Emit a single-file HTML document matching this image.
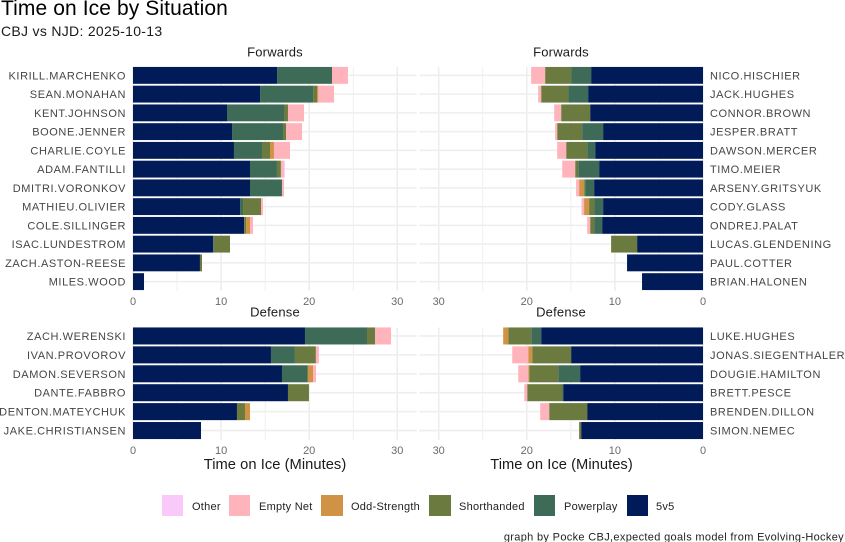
<!DOCTYPE html>
<html lang="en">
<head>
<meta charset="utf-8">
<title>Time on Ice by Situation</title>
<style>
html,body{margin:0;padding:0;background:#fff;width:845px;height:542px;overflow:hidden}
svg{display:block;font-family:"Liberation Sans",Arial,sans-serif}
.ylab{font-size:11px;fill:#454545;letter-spacing:.58px}
.tick{font-size:11px;fill:#6a6a6a}
.strip{font-size:13px;fill:#1a1a1a;letter-spacing:.2px}
.axt{font-size:14.7px;fill:#1a1a1a;letter-spacing:.05px}
.leg{font-size:11px;fill:#222;letter-spacing:.25px}
</style>
</head>
<body>
<svg id="chart" width="845" height="542" viewBox="0 0 845 542" xmlns="http://www.w3.org/2000/svg">
  <text x="1" y="15" font-size="21" letter-spacing=".1" fill="#000">Time on Ice by Situation</text>
  <text x="1" y="36" font-size="14" letter-spacing=".3" fill="#1a1a1a">CBJ vs NJD: 2025-10-13</text>

  <text class="strip" x="275" y="56.5" text-anchor="middle">Forwards</text>
  <text class="strip" x="561" y="56.5" text-anchor="middle">Forwards</text>
  <text class="strip" x="275" y="316.5" text-anchor="middle">Defense</text>
  <text class="strip" x="561" y="316.5" text-anchor="middle">Defense</text>

  <g id="plots"></g>

  <text class="axt" x="275" y="469" text-anchor="middle">Time on Ice (Minutes)</text>
  <text class="axt" x="561.5" y="469" text-anchor="middle">Time on Ice (Minutes)</text>

  <g>
    <rect x="162" y="495" width="21" height="21" fill="#f9c9f9"/>
    <text class="leg" x="192" y="510">Other</text>
    <rect x="229" y="495" width="21" height="21" fill="#ffb3ba"/>
    <text class="leg" x="259" y="510">Empty Net</text>
    <rect x="321" y="495" width="22" height="21" fill="#d09245"/>
    <text class="leg" x="351" y="510">Odd-Strength</text>
    <rect x="429" y="495" width="22" height="21" fill="#6b7a3e"/>
    <text class="leg" x="459" y="510">Shorthanded</text>
    <rect x="534" y="495" width="21" height="21" fill="#3d6b57"/>
    <text class="leg" x="564" y="510">Powerplay</text>
    <rect x="627" y="495" width="21" height="21" fill="#011b58"/>
    <text class="leg" x="656" y="510">5v5</text>
  </g>

  <text x="844" y="540.5" text-anchor="end" font-size="11" letter-spacing=".33" fill="#222">graph by Pocke CBJ,expected goals model from Evolving-Hockey</text>
</svg>

<script>
var xTickValues = [0, 10, 20, 30];
var xMinorValues = [5, 15, 25];
var situationNames = ['5v5', 'powerplay', 'shorthanded', 'odd-strength', 'empty-net', 'other'];
var situationColors = ['#011b58', '#3d6b57', '#6b7a3e', '#d09245', '#ffb3ba', '#f9c9f9'];

var cbjForwardNames = ['KIRILL.MARCHENKO', 'SEAN.MONAHAN', 'KENT.JOHNSON', 'BOONE.JENNER', 'CHARLIE.COYLE', 'ADAM.FANTILLI', 'DMITRI.VORONKOV', 'MATHIEU.OLIVIER', 'COLE.SILLINGER', 'ISAC.LUNDESTROM', 'ZACH.ASTON-REESE', 'MILES.WOOD'];
var cbjForward5v5 = [16.35, 14.42, 10.67, 11.24, 11.46, 13.28, 13.28, 12.15, 12.6, 9.08, 7.6, 1.25];
var cbjForwardPP = [6.24, 6.02, 6.47, 5.79, 3.18, 3.06, 3.63, 0.34, 0.03, 0.08, 0, 0];
var cbjForwardSH = [0, 0.45, 0.45, 0.34, 0.91, 0.45, 0, 2.04, 0.2, 1.85, 0.23, 0];
var cbjForwardOS = [0, 0.15, 0, 0, 0.45, 0, 0, 0, 0.45, 0, 0, 0];
var cbjForwardEN = [1.81, 1.78, 1.82, 1.82, 1.82, 0.34, 0.23, 0.23, 0.34, 0, 0, 0];
var cbjForwardOther = [0, 0, 0, 0, 0, 0.11, 0, 0, 0, 0, 0, 0];

var njdForwardNames = ['NICO.HISCHIER', 'JACK.HUGHES', 'CONNOR.BROWN', 'JESPER.BRATT', 'DAWSON.MERCER', 'TIMO.MEIER', 'ARSENY.GRITSYUK', 'CODY.GLASS', 'ONDREJ.PALAT', 'LUCAS.GLENDENING', 'PAUL.COTTER', 'BRIAN.HALONEN'];
var njdForward5v5 = [12.7, 13.04, 12.81, 11.34, 12.24, 11.79, 12.36, 11.34, 11.45, 7.48, 8.62, 6.92];
var njdForwardPP = [2.27, 2.27, 0, 2.38, 0.91, 2.38, 1.02, 1.02, 0.91, 0, 0, 0];
var njdForwardSH = [2.95, 3.06, 3.29, 2.83, 2.38, 0.34, 0.11, 0.57, 0.45, 2.95, 0, 0];
var njdForwardOS = [0, 0, 0, 0, 0, 0, 0.57, 0.57, 0, 0, 0, 0];
var njdForwardEN = [1.59, 0.34, 0.79, 0.23, 1.02, 1.47, 0.34, 0.23, 0.34, 0, 0, 0];
var njdForwardOther = [0, 0, 0, 0, 0, 0, 0, 0.08, 0, 0, 0, 0];

var cbjDefenseNames = ['ZACH.WERENSKI', 'IVAN.PROVOROV', 'DAMON.SEVERSON', 'DANTE.FABBRO', 'DENTON.MATEYCHUK', 'JAKE.CHRISTIANSEN'];
var cbjDefense5v5 = [19.52, 15.66, 16.91, 17.59, 11.8, 7.72];
var cbjDefensePP = [7.04, 2.72, 2.84, 0, 0, 0];
var cbjDefenseSH = [0.91, 2.38, 0.11, 2.38, 0.91, 0];
var cbjDefenseOS = [0, 0, 0.57, 0, 0.57, 0];
var cbjDefenseEN = [1.82, 0.34, 0.34, 0, 0, 0];
var cbjDefenseOther = [0, 0, 0, 0, 0, 0];

var njdDefenseNames = ['LUKE.HUGHES', 'JONAS.SIEGENTHALER', 'DOUGIE.HAMILTON', 'BRETT.PESCE', 'BRENDEN.DILLON', 'SIMON.NEMEC'];
var njdDefense5v5 = [18.37, 14.97, 13.95, 15.87, 13.15, 13.83];
var njdDefensePP = [1.13, 0, 2.49, 0.08, 0, 0];
var njdDefenseSH = [2.61, 4.42, 3.29, 4.0, 4.31, 0.23];
var njdDefenseOS = [0.57, 0.45, 0.11, 0, 0, 0];
var njdDefenseEN = [0, 1.81, 1.13, 0.34, 1.02, 0];
var njdDefenseOther = [0, 0, 0, 0, 0, 0];

var SVG_NS = 'http://www.w3.org/2000/svg';
var PX_PER_MIN = 8.81;

function make(tag, parent, attrs) {
  var el = document.createElementNS(SVG_NS, tag);
  for (var k in attrs) el.setAttribute(k, attrs[k]);
  parent.appendChild(el);
  return el;
}

function drawPanel(cfg) {
  var root = document.getElementById('plots');
  var g = make('g', root, {});
  
  

  var dir = cfg.mirror ? -1 : 1;
  function xScale(v) { return cfg.zero + dir * v * PX_PER_MIN; }
  var step = (cfg.bottom - cfg.top) / cfg.names.length;
  function yCenter(i) { return cfg.top + step * (i + 0.5); }
  var barH = step * 0.9;

  xMinorValues.forEach(function (v) {
    var minor = make('line', g, { x1: xScale(v), x2: xScale(v), y1: cfg.top + 1, y2: cfg.bottom, stroke: '#efefef', 'stroke-width': 1 });
    
    
  });
  xTickValues.forEach(function (v) {
    var major = make('line', g, { x1: xScale(v), x2: xScale(v), y1: cfg.top + 1, y2: cfg.bottom, stroke: '#eeeeee', 'stroke-width': 1.6 });
    
    
    var tick = make('text', g, { class: 'tick', x: xScale(v), y: cfg.bottom + 14, 'text-anchor': 'middle' });
    
    
    tick.textContent = v;
  });

  cfg.names.forEach(function (name, i) {
    var cy = yCenter(i);
    var hLine = make('line', g, { x1: cfg.left, x2: cfg.right, y1: cy, y2: cy, stroke: '#eeeeee', 'stroke-width': 1.6 });
    
    

    var running = 0;
    cfg.series.forEach(function (values, s) {
      var v = values[i];
      if (v > 0) {
        var x1 = xScale(running);
        var x2 = xScale(running + v);
        var bar = make('rect', g, { x: Math.min(x1, x2), y: cy - barH / 2, width: Math.abs(x2 - x1), height: barH, fill: situationColors[s] });
        
        
      }
      running += v;
    });

    var label = make('text', g, {
      class: 'ylab',
      x: cfg.mirror ? cfg.zero + 7 : cfg.zero - 7,
      y: cy + 4,
      'text-anchor': cfg.mirror ? 'start' : 'end'
    });
    
    
    label.textContent = name;
  });
}

drawPanel({ id: 'cbj-forwards', names: cbjForwardNames, series: [cbjForward5v5, cbjForwardPP, cbjForwardSH, cbjForwardOS, cbjForwardEN, cbjForwardOther], zero: 133, left: 133, right: 416.8, top: 66, bottom: 291, mirror: false });
drawPanel({ id: 'njd-forwards', names: njdForwardNames, series: [njdForward5v5, njdForwardPP, njdForwardSH, njdForwardOS, njdForwardEN, njdForwardOther], zero: 703, left: 419.3, right: 703, top: 66, bottom: 291, mirror: true });
drawPanel({ id: 'cbj-defense', names: cbjDefenseNames, series: [cbjDefense5v5, cbjDefensePP, cbjDefenseSH, cbjDefenseOS, cbjDefenseEN, cbjDefenseOther], zero: 133, left: 133, right: 416.8, top: 326.5, bottom: 440, mirror: false });
drawPanel({ id: 'njd-defense', names: njdDefenseNames, series: [njdDefense5v5, njdDefensePP, njdDefenseSH, njdDefenseOS, njdDefenseEN, njdDefenseOther], zero: 703, left: 419.3, right: 703, top: 326.5, bottom: 440, mirror: true });
</script>
</body>
</html>
